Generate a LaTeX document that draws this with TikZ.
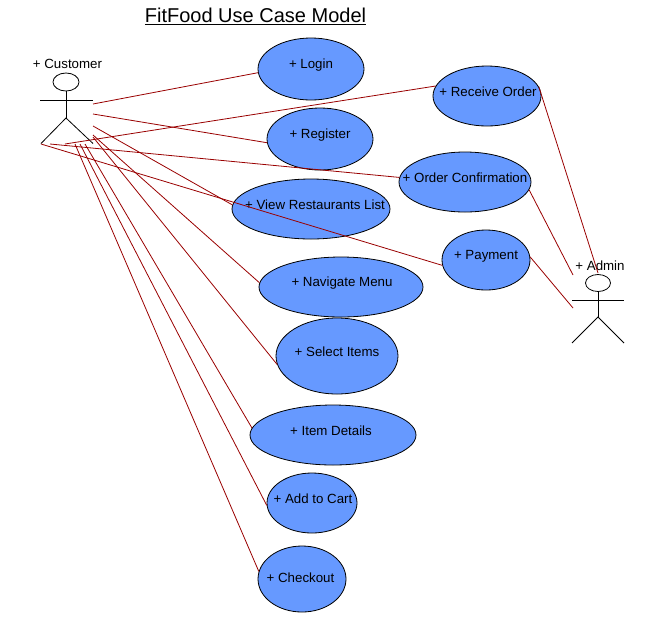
\documentclass[tikz,border=0pt]{standalone}
\usepackage{fontspec}
\setmainfont{Liberation Sans}
\definecolor{UseCaseBlue}{HTML}{6699FF}
\definecolor{LinkRed}{HTML}{990000}
\usetikzlibrary{shapes.geometric, positioning}
\tikzset{
  % Box styles
  usecasebox/.style={ellipse, draw=black, fill=UseCaseBlue, line width=0.8pt, inner sep=0pt},
  caselabel/.style={font=\fontsize{13.3}{15}\selectfont, yshift=4pt, inner sep=0pt},
  actorlabel/.style={font=\fontsize{13.3}{15}\selectfont, inner sep=0pt},
  titlelabel/.style={font=\fontsize{20}{24}\selectfont, inner sep=0pt},
  % Arrow styles
  link/.style={LinkRed, line width=0.8pt},
  body/.style={black, line width=0.8pt},
  % Node styles
  actorhead/.style={ellipse, draw=black, fill=white, line width=0.8pt, inner sep=0pt, minimum width=26pt, minimum height=18pt}
}
\begin{document}
\begin{tikzpicture}[x=1pt, y=-1pt]
  \useasboundingbox (0,0) rectangle (660,627);

  % Title
  \node[titlelabel] (title) at (255.5,16.5) {\underline{FitFood Use Case Model}};

  % Use cases
  \node[usecasebox, minimum width=106pt, minimum height=62pt, label={[caselabel]center:+ Login}] (login) at (311,69) {};
  \node[usecasebox, minimum width=106pt, minimum height=62pt, label={[caselabel]center:+ Register}] (register) at (320,139) {};
  \node[usecasebox, minimum width=158pt, minimum height=60pt, label={[caselabel, xshift=4pt]center:+ View Restaurants List}] (view) at (311,209) {};
  \node[usecasebox, minimum width=164pt, minimum height=60pt, label={[caselabel, xshift=1pt]center:+ Navigate Menu}] (navigate) at (341,287) {};
  \node[usecasebox, minimum width=122pt, minimum height=76pt, label={[caselabel]center:+ Select Items}] (select) at (337,356) {};
  \node[usecasebox, minimum width=166pt, minimum height=60pt, label={[caselabel, xshift=-2pt]center:+ Item Details}] (details) at (333,435) {};
  \node[usecasebox, minimum width=90pt, minimum height=60pt, label={[caselabel, xshift=1pt]center:+ Add to Cart}] (cart) at (312,503) {};
  \node[usecasebox, minimum width=88pt, minimum height=66pt, label={[caselabel, xshift=-1.5pt, yshift=-3pt]center:+ Checkout}] (checkout) at (302,579) {};
  \node[usecasebox, minimum width=108pt, minimum height=60pt, label={[caselabel, xshift=1pt]center:+ Receive Order}] (receive) at (487,96) {};
  \node[usecasebox, minimum width=132pt, minimum height=60pt, label={[caselabel]center:+ Order Confirmation}] (confirm) at (465,182) {};
  \node[usecasebox, minimum width=88pt, minimum height=60pt, label={[caselabel]center:+ Payment}] (payment) at (486,260) {};

  % Customer
  \node[actorlabel] (customer) at (67.5,64) {+ Customer};
  \node[actorhead] (custhead) at (66,82) {};
  \coordinate (custhip) at (66,118);
  \coordinate (custarml) at (40,100);
  \coordinate (custarmr) at (93,100);
  \coordinate (custfootl) at (41,143.5);
  \coordinate (custfootr) at (93,143.5);
  \draw[body] (custhead) -- (custhip);
  \draw[body] (custarml) -- (custarmr);
  \draw[body] (custfootl) -- (custhip) -- (custfootr);

  % Admin
  \node[actorlabel] (admin) at (600,266) {+ Admin};
  \node[actorhead, minimum width=25pt, minimum height=17pt] (adminhead) at (598,283) {};
  \coordinate (adminhip) at (598,317);
  \coordinate (adminarml) at (572,300);
  \coordinate (adminarmr) at (624,300);
  \coordinate (adminfootl) at (572,343);
  \coordinate (adminfootr) at (624,343);
  \draw[body] (adminhead) -- (adminhip);
  \draw[body] (adminarml) -- (adminarmr);
  \draw[body] (adminfootl) -- (adminhip) -- (adminfootr);

  % Free ends at the customer
  \coordinate (c1) at (93,104);
  \coordinate (c2) at (93,114);
  \coordinate (c3) at (93,126);
  \coordinate (c4) at (93,135);
  \coordinate (c5) at (93,137);
  \coordinate (c6) at (85,144);
  \coordinate (c7) at (80,144);
  \coordinate (c8) at (75,144);
  \coordinate (c9) at (65,144);
  \coordinate (c10) at (50,144);
  \coordinate (c11) at (41,144);

  % Free ends at the admin
  \coordinate (a1) at (598,273);
  \coordinate (a2) at (573,275);
  \coordinate (a3) at (573,308);

  \draw[link] (c1) -- (login.184);
  \draw[link] (c2) -- (register.184);
  \draw[link] (c3) -- (view.177);
  \draw[link] (c4) -- (navigate.177);
  \draw[link] (c5) -- (select.188);
  \draw[link] (c6) -- (details.175);
  \draw[link] (c7) -- (cart.183);
  \draw[link] (c8) -- (checkout.170);
  \draw[link] (c9) -- (receive.169);
  \draw[link] (c10) -- (confirm.176);
  \draw[link] (c11) -- (payment.187);
  \draw[link] (receive.10) -- (a1);
  \draw[link] (confirm.-7) -- (a2);
  \draw[link] (payment.4) -- (a3);
\end{tikzpicture}
\end{document}
